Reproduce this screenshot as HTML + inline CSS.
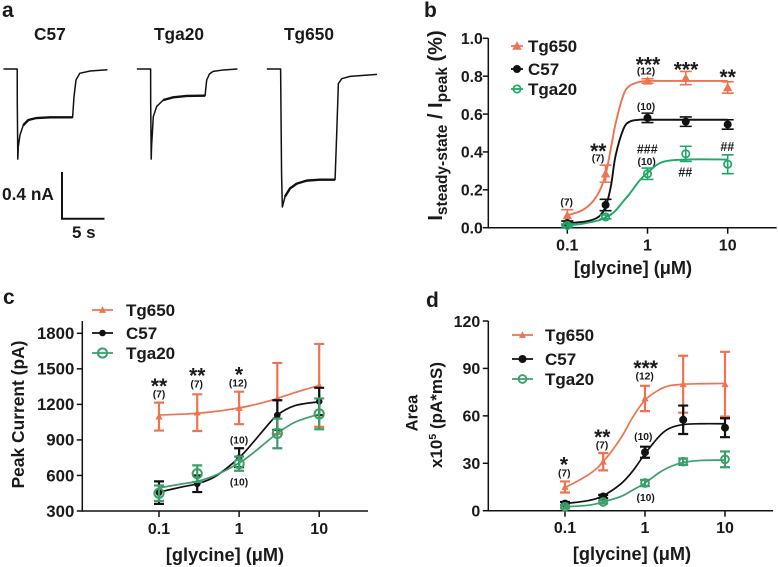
<!DOCTYPE html>
<html lang="en">
<head>
<meta charset="utf-8">
<title>Glycine dose-response figure</title>
<style>
html,body{margin:0;padding:0;background:#fff;}
svg{display:block;}
text{font-family:"Liberation Sans",sans-serif;font-weight:700;fill:#1a1a1a;}
.panel-letter{font-size:21px;}
.star{font-size:21px;text-anchor:middle;}
.n{font-size:10.3px;text-anchor:middle;}
.hash{font-size:12.5px;text-anchor:middle;}
.trace-title{font-size:17.3px;}
</style>
</head>
<body>
<svg id="fig" width="778" height="567" viewBox="0 0 778 567" xmlns="http://www.w3.org/2000/svg">
  <rect x="0" y="0" width="778" height="567" fill="#fff"/>

  <text class="panel-letter" x="2" y="17">a</text>
  <text class="panel-letter" x="424" y="17">b</text>
  <text class="panel-letter" x="3" y="304">c</text>
  <text class="panel-letter" x="426" y="307">d</text>

  <text class="trace-title" x="34" y="40">C57</text>
  <text class="trace-title" x="154" y="40">Tga20</text>
  <text class="trace-title" x="284" y="40">Tg650</text>
  <path d="M62 172V219M61 218.7H104.5" fill="none" stroke="#111" stroke-width="2"/>
  <text x="2" y="200" font-size="17.3">0.4 nA</text>
  <text x="72" y="238" font-size="17">5 s</text>

  <g>
    <text class="star" x="648" y="71.5">***</text>
    <text class="n" x="646" y="74.3">(12)</text>
    <text class="star" x="686" y="76.5">***</text>
    <text class="star" x="727.7" y="84">**</text>
    <text class="n" x="646" y="110">(10)</text>
    <text class="hash" x="647.3" y="153.5">###</text>
    <text class="n" x="646.7" y="165">(10)</text>
    <text class="hash" x="685.3" y="176.5">##</text>
    <text class="hash" x="727.3" y="151">##</text>
    <text class="star" x="598.3" y="158">**</text>
    <text class="n" x="598" y="161.6">(7)</text>
    <text class="n" x="566.7" y="205.6">(7)</text>
  </g>
  <g>
    <text class="star" x="159" y="393">**</text>
    <text class="n" x="159" y="397.6">(7)</text>
    <text class="star" x="197.3" y="382.5">**</text>
    <text class="n" x="196.7" y="387.6">(7)</text>
    <text class="star" x="239" y="381.5">*</text>
    <text class="n" x="238" y="386.6">(12)</text>
    <text class="n" x="239" y="443.6">(10)</text>
    <text class="n" x="239" y="485.6">(10)</text>
  </g>
  <g>
    <text class="star" x="564" y="471.5">*</text>
    <text class="n" x="564.3" y="476.3">(7)</text>
    <text class="star" x="602.3" y="444">**</text>
    <text class="n" x="602" y="448.3">(7)</text>
    <text class="star" x="645.7" y="375">***</text>
    <text class="n" x="644.7" y="379.3">(12)</text>
    <text class="n" x="643.3" y="440">(10)</text>
    <text class="n" x="645.7" y="501">(10)</text>
  </g>

  <text transform="translate(442 125.5) rotate(-90)" text-anchor="middle" font-size="20">I<tspan font-size="15.5" dy="5">steady-state</tspan><tspan dy="-5"> / I</tspan><tspan font-size="15.5" dy="5">peak</tspan><tspan dy="-5"> (%)</tspan></text>
  <text transform="translate(24 414.5) rotate(-90)" text-anchor="middle" font-size="17.4">Peak Current (pA)</text>
  <text transform="translate(417.5 413) rotate(-90)" text-anchor="middle" font-size="16.5">Area</text>
  <text transform="translate(442 415) rotate(-90)" text-anchor="middle" font-size="17">x10<tspan font-size="10.5" dy="-6">5</tspan><tspan dy="6"> (pA*mS)</tspan></text>

  <g id="plots"></g>
</svg>

<script>
// ---- shared
const conc = [0.1, 0.3, 1, 3, 10];
const xTickValues = [0.1, 1, 10];
const xTickLabels = ['0.1', '1', '10'];
const seriesNames = ['Tg650', 'C57', 'Tga20'];

// ---- panel a: example traces (time in s after onset, current in nA)
const traceC57Time = [-1.6, -0.01, 0, 0.06, 0.115, 0.31, 0.69, 1.27, 2.2, 3.8, 6.38, 6.54, 6.77, 7.2, 8.4, 10.4];
const traceC57Current = [0, 0, 0.3, 0.77, 0.664, 0.564, 0.48, 0.436, 0.419, 0.413, 0.413, 0.236, 0.094, 0.037, 0.017, 0.006];
const traceTga20Time = [-1.6, -0.01, 0, 0.06, 0.1, 0.3, 0.69, 1.46, 2.6, 4.15, 6.08, 6.27, 6.46, 6.77, 7.2, 8.4, 10];
const traceTga20Current = [0, 0, 0.3, 0.77, 0.66, 0.407, 0.32, 0.265, 0.242, 0.23, 0.228, 0.228, 0.094, 0.043, 0.02, 0.008, 0];
const traceTg650Time = [-1.6, -0.01, 0.1, 0.19, 0.5, 1.08, 1.85, 3, 4.5, 6.27, 6.46, 6.65, 7.04, 8, 11.1];
const traceTg650Current = [0, 0, 0.9, 1.18, 1.09, 1.02, 0.98, 0.954, 0.946, 0.946, 0.553, 0.125, 0.083, 0.063, 0.046];

// ---- panel b
const bYTicks = [0, 0.2, 0.4, 0.6, 0.8, 1.0];
const bYLabels = ['0.0', '0.2', '0.4', '0.6', '0.8', '1.0'];
const bTg650 = [0.065, 0.285, 0.775, 0.79, 0.74];
const bTg650Err = [0.03, 0.045, 0.012, 0.035, 0.03];
const bC57 = [0.025, 0.12, 0.58, 0.56, 0.545];
const bC57Err = [0.01, 0.03, 0.025, 0.025, 0.025];
const bTga20 = [0.012, 0.057, 0.285, 0.39, 0.335];
const bTga20Err = [0.008, 0.01, 0.03, 0.04, 0.05];
const bCurveConc = [0.1, 0.15, 0.2, 0.25, 0.3, 0.35, 0.4, 0.5, 0.6, 0.8, 1, 1.5, 3, 10];
const bTg650Curve = [0.065, 0.09, 0.13, 0.19, 0.28, 0.42, 0.55, 0.70, 0.75, 0.77, 0.775, 0.775, 0.775, 0.775];
const bC57Curve = [0.025, 0.03, 0.04, 0.06, 0.11, 0.22, 0.38, 0.52, 0.56, 0.57, 0.57, 0.57, 0.57, 0.57];
const bTga20Curve = [0.012, 0.02, 0.03, 0.04, 0.055, 0.07, 0.09, 0.14, 0.18, 0.25, 0.29, 0.345, 0.36, 0.36];

// ---- panel c
const cYTicks = [300, 600, 900, 1200, 1500, 1800];
const cYLabels = ['300', '600', '900', '1200', '1500', '1800'];
const cTg650 = [1097, 1130, 1170, 1250, 1360];
const cTg650Err = [118, 155, 137, 300, 350];
const cC57 = [455, 530, 750, 1110, 1225];
const cC57Err = [95, 70, 80, 125, 115];
const cTga20 = [450, 615, 700, 955, 1120];
const cTga20Err = [65, 70, 60, 125, 130];
const cCurveConc = [0.1, 0.2, 0.3, 0.5, 1, 1.5, 2, 3, 5, 10];
const cTg650Curve = [1110, 1118, 1125, 1140, 1170, 1195, 1215, 1250, 1300, 1360];
const cC57Curve = [460, 505, 530, 590, 750, 880, 980, 1110, 1190, 1222];
const cTga20Curve = [495, 530, 550, 600, 705, 790, 860, 955, 1050, 1118];

// ---- panel d
const dYTicks = [0, 30, 60, 90, 120];
const dYLabels = ['0', '30', '60', '90', '120'];
const dTg650 = [15, 31, 71, 80, 80];
const dTg650Err = [3.5, 5.5, 8, 18, 20.5];
const dC57 = [4.5, 9, 37, 57.5, 52.5];
const dC57Err = [1, 1, 3.5, 9, 6];
const dTga20 = [2.5, 5.5, 17.5, 31, 32.5];
const dTga20Err = [1, 1, 2, 2, 5];
const dCurveConc = [0.1, 0.2, 0.3, 0.5, 0.7, 1, 1.5, 2, 3, 5, 10];
const dTg650Curve = [14.5, 23, 31, 46, 59, 70, 76.5, 79, 80, 80.3, 80.5];
const dC57Curve = [4.5, 6.5, 9.5, 17, 25, 36, 47, 52, 54.5, 55, 55];
const dTga20Curve = [2.5, 3.5, 5.5, 9, 13, 17.5, 24, 27.5, 30.5, 31.8, 32];

const NS = 'http://www.w3.org/2000/svg';
const root = document.getElementById('plots');

function make(tag, parent, name, attrs, txt) {
  const el = document.createElementNS(NS, tag);
  
  
  for (const k in attrs) el.setAttribute(k, attrs[k]);
  if (txt !== undefined) el.textContent = txt;
  parent.appendChild(el);
  return el;
}

function linePath(xs, ys, fx, fy) {
  return xs.map((v, i) => (i ? 'L' : 'M') + fx(v).toFixed(2) + ' ' + fy(ys[i]).toFixed(2)).join('');
}

// Smooth path through sampled curve values (Catmull-Rom)
function smoothPath(xs, ys, fx, fy) {
  const p = xs.map((v, i) => [fx(v), fy(ys[i])]);
  let d = 'M' + p[0][0].toFixed(2) + ' ' + p[0][1].toFixed(2);
  for (let i = 0; i < p.length - 1; i++) {
    const a = p[Math.max(i - 1, 0)], b = p[i], c = p[i + 1], e = p[Math.min(i + 2, p.length - 1)];
    const c1x = b[0] + (c[0] - a[0]) / 6, c1y = b[1] + (c[1] - a[1]) / 6;
    const c2x = c[0] - (e[0] - b[0]) / 6, c2y = c[1] - (e[1] - b[1]) / 6;
    d += 'C' + c1x.toFixed(2) + ' ' + c1y.toFixed(2) + ' ' + c2x.toFixed(2) + ' ' + c2y.toFixed(2) + ' ' + c[0].toFixed(2) + ' ' + c[1].toFixed(2);
  }
  return d;
}

function marker(parent, name, kind, x, y, color, size, ringWidth) {
  if (kind === 'tri') {
    make('polygon', parent, name, {points: x + ',' + (y - size) + ' ' + (x + size) + ',' + (y + size * 0.8) + ' ' + (x - size) + ',' + (y + size * 0.8), fill: color});
  } else if (kind === 'dot') {
    make('circle', parent, name, {cx: x, cy: y, r: size, fill: color});
  } else {
    make('circle', parent, name, {cx: x, cy: y, r: size, fill: 'none', stroke: color, 'stroke-width': ringWidth});
  }
}

// ---- panel a traces
const traceTimeScale = v => v * 8.67;
const traceCurrentScale = v => 69 + v * 117;
function drawTrace(name, onsetX, t, i, thickFrom, thickTo) {
  const fx = v => onsetX + traceTimeScale(v);
  make('path', root, name, {d: linePath(t, i, fx, traceCurrentScale), fill: 'none', stroke: '#111', 'stroke-width': 1.5, 'stroke-linejoin': 'round'});
  make('path', root, name + '-noise-band', {d: linePath(t.slice(thickFrom, thickTo), i.slice(thickFrom, thickTo), fx, traceCurrentScale), fill: 'none', stroke: '#111', 'stroke-width': 2.4, 'stroke-linejoin': 'round'});
}
drawTrace('trace-c57', 17.3, traceC57Time, traceC57Current, 6, 11);
drawTrace('trace-tga20', 150.7, traceTga20Time, traceTga20Current, 7, 12);
drawTrace('trace-tg650', 280.7, traceTg650Time, traceTg650Current, 4, 10);

// ---- dose-response panels
function drawPanel(cfg) {
  const g = make('g', root, cfg.id + '-plot', {});
  const fx = c => cfg.x01 + (Math.log10(c) + 1) * cfg.decade;
  const fy = v => cfg.yBottom - (v - cfg.yMin) / (cfg.yMax - cfg.yMin) * (cfg.yBottom - cfg.yTopTick);

  make('path', g, cfg.id + '-y-axis', {d: 'M' + cfg.axisX + ' ' + cfg.axisTop + 'V' + (cfg.yBottom + 0.75), stroke: '#111', 'stroke-width': 1.5, fill: 'none'});
  make('path', g, cfg.id + '-x-axis', {d: 'M' + cfg.axisX + ' ' + cfg.yBottom + 'H' + cfg.axisEnd, stroke: '#111', 'stroke-width': 1.5, fill: 'none'});

  cfg.yTicks.forEach((v, i) => {
    make('line', g, cfg.id + '-y-tick', {x1: cfg.axisX - 5.5, x2: cfg.axisX, y1: fy(v), y2: fy(v), stroke: '#111', 'stroke-width': 1.5});
    make('text', g, cfg.id + '-y-tick-label', {x: cfg.axisX - cfg.yLabelGap, y: fy(v) + 5.8, 'text-anchor': 'end', 'font-size': cfg.yLabelSize}, cfg.yLabels[i]);
  });
  xTickValues.forEach((v, i) => {
    make('line', g, cfg.id + '-x-tick', {x1: fx(v), x2: fx(v), y1: cfg.yBottom, y2: cfg.yBottom + 6, stroke: '#111', 'stroke-width': 1.5});
    make('text', g, cfg.id + '-x-tick-label', {x: fx(v), y: cfg.xLabelY, 'text-anchor': 'middle', 'font-size': 16}, xTickLabels[i]);
  });

  make('text', g, cfg.id + '-x-title', {x: cfg.xTitleX, y: cfg.xTitleY, 'text-anchor': 'middle', 'font-size': 18.2}, '[glycine] (μM)');

  cfg.series.forEach((s, idx) => {
    const sg = make('g', g, cfg.id + '-series-' + seriesNames[idx].toLowerCase(), {});
    make('path', sg, cfg.id + '-curve', {d: smoothPath(cfg.curveConc, s.curve, fx, fy), fill: 'none', stroke: s.color, 'stroke-width': cfg.curveWidth});
    conc.forEach((c, i) => {
      const x = fx(c), hi = fy(s.values[i] + s.err[i]), lo = fy(s.values[i] - s.err[i]);
      const cap = cfg.capHalf;
      make('path', sg, cfg.id + '-error-bar', {d: 'M' + x + ' ' + hi + 'V' + lo + 'M' + (x - cap) + ' ' + hi + 'H' + (x + cap) + 'M' + (x - cap) + ' ' + lo + 'H' + (x + cap), fill: 'none', stroke: s.color, 'stroke-width': cfg.errWidth});
      marker(sg, cfg.id + '-point', s.kind, x, fy(s.values[i]), s.color, s.size, cfg.ringWidth);
    });
  });

  seriesNames.forEach((n, i) => {
    const s = cfg.series[i], y = cfg.legendY[i];
    const lg = make('g', g, cfg.id + '-legend-entry-' + n.toLowerCase(), {});
    make('line', lg, cfg.id + '-legend-line', {x1: cfg.legendX1, x2: cfg.legendX2, y1: y, y2: y, stroke: s.color, 'stroke-width': 1.8});
    marker(lg, cfg.id + '-legend-marker', s.kind, (cfg.legendX1 + cfg.legendX2) / 2, y, s.color, s.size, cfg.ringWidth);
    make('text', lg, cfg.id + '-legend-label', {x: cfg.legendTextX, y: y + 6, 'font-size': 17}, n);
  });
}

const orange = '#ee7350';
const black = '#111111';

drawPanel({
  id: 'panel-b', x01: 567.3, decade: 80.2, axisX: 488.3, axisTop: 38.3, axisEnd: 776.7,
  yBottom: 227.7, yTopTick: 38.3, yMin: 0, yMax: 1, yTicks: bYTicks, yLabels: bYLabels, yLabelGap: 5.5, yLabelSize: 15.8,
  xLabelY: 250.5, xTitleX: 633, xTitleY: 274, curveConc: bCurveConc, curveWidth: 1.9, errWidth: 1.6, capHalf: 6, ringWidth: 1.7,
  legendY: [46, 69, 89], legendX1: 511, legendX2: 523, legendTextX: 528,
  series: [
    {values: bTg650, err: bTg650Err, curve: bTg650Curve, color: orange, kind: 'tri', size: 4.7},
    {values: bC57, err: bC57Err, curve: bC57Curve, color: black, kind: 'dot', size: 4},
    {values: bTga20, err: bTga20Err, curve: bTga20Curve, color: '#1fa868', kind: 'ring', size: 3.7}
  ]
});

drawPanel({
  id: 'panel-c', x01: 159, decade: 80.1, axisX: 82.3, axisTop: 321, axisEnd: 368,
  yBottom: 511, yTopTick: 333.3, yMin: 300, yMax: 1800, yTicks: cYTicks, yLabels: cYLabels, yLabelGap: 8, yLabelSize: 16.8,
  xLabelY: 534, xTitleX: 225, xTitleY: 561, curveConc: cCurveConc, curveWidth: 1.7, errWidth: 2.2, capHalf: 5, ringWidth: 2,
  legendY: [310, 333, 353], legendX1: 92, legendX2: 113, legendTextX: 126,
  series: [
    {values: cTg650, err: cTg650Err, curve: cTg650Curve, color: orange, kind: 'tri', size: 3.6},
    {values: cC57, err: cC57Err, curve: cC57Curve, color: black, kind: 'dot', size: 3.3},
    {values: cTga20, err: cTga20Err, curve: cTga20Curve, color: '#3c9f6b', kind: 'ring', size: 4.6}
  ]
});

drawPanel({
  id: 'panel-d', x01: 565, decade: 80, axisX: 488.3, axisTop: 321, axisEnd: 773,
  yBottom: 510.7, yTopTick: 321, yMin: 0, yMax: 120, yTicks: dYTicks, yLabels: dYLabels, yLabelGap: 8, yLabelSize: 16,
  xLabelY: 533, xTitleX: 632, xTitleY: 560, curveConc: dCurveConc, curveWidth: 1.7, errWidth: 2.2, capHalf: 5, ringWidth: 1.9,
  legendY: [335, 359, 379], legendX1: 512, legendX2: 533, legendTextX: 545,
  series: [
    {values: dTg650, err: dTg650Err, curve: dTg650Curve, color: orange, kind: 'tri', size: 3.6},
    {values: dC57, err: dC57Err, curve: dC57Curve, color: black, kind: 'dot', size: 4},
    {values: dTga20, err: dTga20Err, curve: dTga20Curve, color: '#3c9f6b', kind: 'ring', size: 3.9}
  ]
});
</script>
</body>
</html>
